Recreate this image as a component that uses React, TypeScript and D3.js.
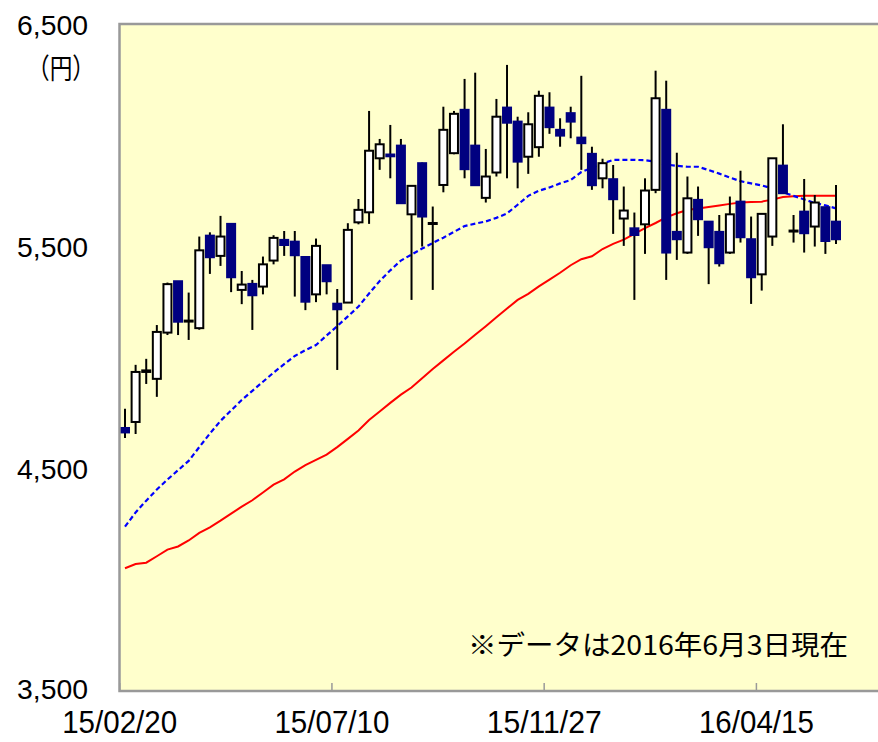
import React from 'react';
import * as d3 from 'd3';

// weekly candles, 15/02/20 .. 16/06/03
const opens = [4683, 4710, 4935, 4904, 5112, 5343, 5164, 5132, 5548, 5457, 5601, 5304, 5331, 5319, 5436, 5529, 5521, 5452, 5284, 5415, 5242, 5247, 5608, 5653, 5896, 5913, 5953, 5644, 5874, 5603, 5776, 5919, 6114, 5953, 5718, 5832, 6124, 6061, 5903, 5946, 6124, 6024, 6099, 5989, 5916, 5806, 5802, 5625, 5581, 5599, 5754, 6114, 5565, 5472, 5709, 5611, 5565, 5472, 5701, 5532, 5374, 5544, 5863, 5567, 5656, 5589, 5676, 5611];
const highs = [4769, 4967, 4994, 5146, 5337, 5343, 5292, 5544, 5563, 5637, 5601, 5389, 5349, 5454, 5550, 5569, 5569, 5452, 5535, 5415, 5308, 5604, 5713, 6109, 5983, 6046, 5983, 5776, 5877, 5679, 6128, 6109, 6253, 6281, 5938, 6163, 6316, 6083, 6103, 6200, 6193, 6076, 6128, 6267, 5948, 5894, 5866, 5769, 5652, 5806, 6290, 6245, 5921, 5814, 5769, 5611, 5641, 5724, 5840, 5634, 5649, 5896, 6049, 5641, 5803, 5731, 5676, 5776];
const lows = [4638, 4656, 4881, 4823, 5101, 5101, 5079, 5125, 5376, 5412, 5294, 5240, 5124, 5284, 5419, 5457, 5274, 5213, 5249, 5284, 4944, 5245, 5599, 5601, 5844, 5806, 5691, 5259, 5499, 5304, 5743, 5914, 5806, 5775, 5697, 5814, 5806, 5761, 5826, 5903, 6006, 5948, 5986, 5844, 5754, 5761, 5556, 5502, 5259, 5466, 5739, 5349, 5439, 5466, 5547, 5330, 5409, 5466, 5517, 5241, 5301, 5502, 5739, 5517, 5472, 5499, 5466, 5511];
const closes = [4663, 4935, 4942, 5115, 5330, 5161, 5166, 5482, 5451, 5544, 5361, 5328, 5280, 5419, 5538, 5506, 5460, 5251, 5502, 5343, 5217, 5574, 5664, 5930, 5959, 5905, 5694, 5772, 5634, 5605, 6024, 6096, 5847, 5775, 5814, 6083, 6056, 5881, 6049, 6177, 6036, 5998, 6061, 5964, 5775, 5874, 5712, 5661, 5551, 5751, 6166, 5472, 5532, 5716, 5622, 5496, 5424, 5644, 5541, 5361, 5646, 5896, 5739, 5571, 5559, 5697, 5524, 5532];

// 13-week and 26-week moving averages
const ma13 = [4239, 4303, 4356, 4406, 4451, 4493, 4535, 4597, 4658, 4715, 4762, 4809, 4850, 4891, 4932, 4970, 5007, 5033, 5056, 5099, 5141, 5185, 5229, 5288, 5344, 5392, 5436, 5463, 5490, 5515, 5539, 5565, 5591, 5602, 5612, 5628, 5648, 5687, 5727, 5750, 5765, 5783, 5798, 5834, 5853, 5872, 5889, 5889, 5889, 5887, 5881, 5868, 5862, 5858, 5858, 5843, 5827, 5809, 5793, 5783, 5774, 5760, 5743, 5727, 5711, 5695, 5684, 5671];
const ma26 = [4052, 4071, 4077, 4106, 4136, 4150, 4177, 4211, 4236, 4266, 4298, 4329, 4358, 4393, 4428, 4452, 4487, 4516, 4540, 4563, 4597, 4634, 4672, 4719, 4757, 4796, 4833, 4865, 4907, 4948, 4987, 5026, 5063, 5102, 5141, 5181, 5220, 5259, 5286, 5320, 5350, 5381, 5415, 5442, 5455, 5488, 5511, 5530, 5556, 5582, 5605, 5630, 5649, 5663, 5670, 5677, 5684, 5691, 5697, 5699, 5701, 5710, 5722, 5725, 5727, 5727, 5727, 5727];

const tickWeeks = [0, 20, 40, 60];
const tickLabels = ['15/02/20', '15/07/10', '15/11/27', '16/04/15'];
const yTicks = [6500, 5500, 4500, 3500];

const W = 878;
const H = 742;
const left = 119.5;
const top = 24;
const bottom = 691;

const NAVY = '#000080';

export default function App() {
  const n = opens.length;
  const x = d3.scaleLinear().domain([0, n - 1]).range([125, 836]);
  const y = d3.scaleLinear().domain([3500, 6500]).range([bottom, top]);
  const half = (x(1) - x(0)) / 2;
  const idx = d3.range(n);

  const line13 = d3.line<number>().x(i => x(i)).y(i => y(ma13[i]));
  const line26 = d3.line<number>().x(i => x(i)).y(i => y(ma26[i]));

  const font = '"Noto Sans CJK JP", "DejaVu Sans", sans-serif';
  const numFont = '"Liberation Sans", Arial, sans-serif';

  return (
    <svg width={W} height={H} style={{ position: 'absolute', left: 0, top: 0 }}>
      <rect x={0} y={0} width={W} height={H} fill="#fff" />
      <rect x={left} y={top} width={W - left + 2} height={bottom - top} fill="#FFFFCC" />

      {/* x ticks */}
      {tickWeeks.map(t => (
        <line key={t} x1={x(t) - half} x2={x(t) - half} y1={bottom - 8} y2={bottom}
          stroke="#999" strokeWidth={1.5} />
      ))}

      {/* moving averages */}
      <path d={line26(idx) || ''} fill="none" stroke="#FF0000" strokeWidth={2} />
      <path d={line13(idx) || ''} fill="none" stroke="#0000FF" strokeWidth={2.2}
        strokeDasharray="5,3" />

      {/* candles */}
      {idx.map(i => {
        const cx = x(i);
        const up = closes[i] >= opens[i];
        const yTop = y(Math.max(opens[i], closes[i]));
        const yBot = y(Math.min(opens[i], closes[i]));
        return (
          <g key={i}>
            <line x1={cx} x2={cx} y1={y(highs[i])} y2={y(lows[i])} stroke="#000" strokeWidth={2} />
            {up ? (
              <rect x={cx - 4} y={yTop} width={8} height={Math.max(1, yBot - yTop)}
                fill="#fff" stroke="#000" strokeWidth={2} />
            ) : (
              <rect x={cx - 5} y={yTop - 1} width={10} height={Math.max(2.5, yBot - yTop + 2)}
                fill={NAVY} />
            )}
          </g>
        );
      })}

      {/* frame */}
      <path d={`M${W + 2},${top} H${left} V${bottom} H${W + 2}`} fill="none"
        stroke="#999" strokeWidth={2.5} />

      {/* y labels */}
      {yTicks.map(v => (
        <text key={v} x={88} y={v === 3500 ? y(v) - 1.5 : y(v) + 1.5} textAnchor="end"
          dominantBaseline="central" fontFamily={numFont} fontSize={27} textLength={71}
          lengthAdjust="spacingAndGlyphs" fill="#000">{d3.format(',')(v)}</text>
      ))}
      <text x={27} y={67} dominantBaseline="central" fontFamily={font} fontSize={28}
        textLength={68} lengthAdjust="spacingAndGlyphs" fill="#000">（円）</text>

      {/* x labels */}
      {tickWeeks.map((t, k) => (
        <text key={t} x={x(t) - half} y={722} textAnchor="middle" dominantBaseline="central"
          fontFamily={numFont} fontSize={32} textLength={115} lengthAdjust="spacingAndGlyphs"
          fill="#000">{tickLabels[k]}</text>
      ))}

      <text x={468} y={643} dominantBaseline="central" fontFamily={font} fontSize={27}
        textLength={380} lengthAdjust="spacingAndGlyphs" fill="#000">※データは2016年6月3日現在</text>
    </svg>
  );
}
